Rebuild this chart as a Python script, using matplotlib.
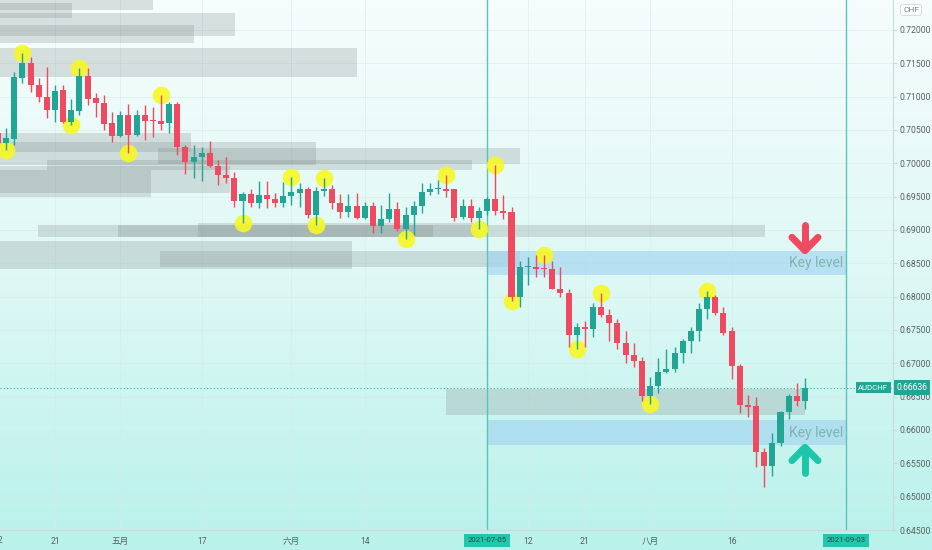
import numpy as np
import pandas as pd
import matplotlib
matplotlib.use('Agg')
import matplotlib.pyplot as plt
from matplotlib.colors import LinearSegmentedColormap

plt.rcParams['font.family'] = ['Roboto', 'Noto Sans CJK SC', 'DejaVu Sans']

# AUDCHF daily bars, 2021-04-12 .. 2021-08-27
dates = pd.bdate_range('2021-04-12', '2021-08-27')
opens = [0.7046, 0.7031, 0.7037, 0.7128, 0.7151, 0.7118, 0.7100, 0.7080, 0.7110, 0.7062,
         0.7079, 0.7131, 0.7098, 0.7091, 0.7061, 0.7041, 0.7073, 0.7043, 0.7073, 0.7065,
         0.7064, 0.7061, 0.7089, 0.7025, 0.7002, 0.7009, 0.7016, 0.6996, 0.6983, 0.6978,
         0.6944, 0.6954, 0.6941, 0.6953, 0.6947, 0.6941, 0.6951, 0.6956, 0.6962, 0.6922,
         0.6959, 0.6962, 0.6941, 0.6927, 0.6936, 0.6918, 0.6936, 0.6906, 0.6916, 0.6932,
         0.6901, 0.6922, 0.6936, 0.6957, 0.6961, 0.6962, 0.6961, 0.6920, 0.6936, 0.6918,
         0.6929, 0.6946, 0.6929, 0.6927, 0.6800, 0.6844, 0.6844, 0.6842, 0.6842, 0.6812,
         0.6806, 0.6742, 0.6754, 0.6752, 0.6784, 0.6773, 0.6761, 0.6731, 0.6712, 0.6704,
         0.6651, 0.6666, 0.6687, 0.6692, 0.6716, 0.6733, 0.6749, 0.6782, 0.6799, 0.6776,
         0.6748, 0.6696, 0.6637, 0.6636, 0.6567, 0.6546, 0.6580, 0.6627, 0.6651, 0.6643]
highs = [0.7053, 0.7053, 0.7137, 0.7166, 0.7160, 0.7128, 0.7145, 0.7118, 0.7118, 0.7097,
         0.7143, 0.7143, 0.7106, 0.7103, 0.7077, 0.7079, 0.7089, 0.7080, 0.7088, 0.7085,
         0.7103, 0.7092, 0.7092, 0.7028, 0.7028, 0.7025, 0.7034, 0.7005, 0.7010, 0.6987,
         0.6957, 0.6962, 0.6974, 0.6974, 0.6956, 0.6972, 0.6980, 0.6971, 0.6965, 0.6965,
         0.6978, 0.6968, 0.6954, 0.6954, 0.6956, 0.6942, 0.6942, 0.6938, 0.6956, 0.6942,
         0.6934, 0.6944, 0.6971, 0.6971, 0.6975, 0.6982, 0.6962, 0.6947, 0.6946, 0.6935,
         0.6949, 0.6998, 0.6953, 0.6935, 0.6853, 0.6860, 0.6863, 0.6862, 0.6853, 0.6844,
         0.6811, 0.6761, 0.6763, 0.6791, 0.6806, 0.6782, 0.6766, 0.6748, 0.6730, 0.6709,
         0.6679, 0.6708, 0.6721, 0.6725, 0.6736, 0.6755, 0.6791, 0.6808, 0.6802, 0.6785,
         0.6754, 0.6699, 0.6652, 0.6649, 0.6573, 0.6595, 0.6628, 0.6654, 0.6670, 0.6678]
lows = [0.7023, 0.7020, 0.7028, 0.7121, 0.7107, 0.7092, 0.7068, 0.7062, 0.7061, 0.7058,
        0.7073, 0.7088, 0.7070, 0.7050, 0.7032, 0.7040, 0.7016, 0.7041, 0.7035, 0.7040,
        0.7050, 0.7046, 0.7013, 0.6984, 0.6978, 0.6974, 0.6995, 0.6968, 0.6971, 0.6935,
        0.6911, 0.6935, 0.6933, 0.6933, 0.6935, 0.6935, 0.6938, 0.6935, 0.6918, 0.6908,
        0.6951, 0.6931, 0.6918, 0.6920, 0.6917, 0.6916, 0.6896, 0.6896, 0.6912, 0.6899,
        0.6886, 0.6893, 0.6926, 0.6953, 0.6954, 0.6950, 0.6914, 0.6916, 0.6912, 0.6901,
        0.6923, 0.6923, 0.6916, 0.6793, 0.6784, 0.6818, 0.6830, 0.6829, 0.6811, 0.6800,
        0.6725, 0.6721, 0.6724, 0.6739, 0.6769, 0.6733, 0.6721, 0.6700, 0.6694, 0.6643,
        0.6639, 0.6655, 0.6685, 0.6687, 0.6700, 0.6715, 0.6733, 0.6766, 0.6772, 0.6743,
        0.6676, 0.6625, 0.6619, 0.6544, 0.6514, 0.6531, 0.6576, 0.6616, 0.6636, 0.6631]
closes = [0.7031, 0.7038, 0.7130, 0.7151, 0.7118, 0.7100, 0.7080, 0.7109, 0.7062, 0.7080,
          0.7131, 0.7097, 0.7091, 0.7059, 0.7041, 0.7073, 0.7043, 0.7073, 0.7064, 0.7064,
          0.7059, 0.7089, 0.7025, 0.7002, 0.7010, 0.7016, 0.6996, 0.6983, 0.6978, 0.6944,
          0.6954, 0.6941, 0.6953, 0.6946, 0.6941, 0.6951, 0.6957, 0.6962, 0.6922, 0.6959,
          0.6962, 0.6941, 0.6927, 0.6936, 0.6918, 0.6936, 0.6906, 0.6916, 0.6932, 0.6901,
          0.6922, 0.6936, 0.6957, 0.6962, 0.6962, 0.6959, 0.6918, 0.6936, 0.6918, 0.6929,
          0.6946, 0.6929, 0.6926, 0.6800, 0.6844, 0.6844, 0.6841, 0.6841, 0.6812, 0.6806,
          0.6742, 0.6754, 0.6752, 0.6784, 0.6773, 0.6761, 0.6731, 0.6712, 0.6703, 0.6651,
          0.6666, 0.6687, 0.6692, 0.6716, 0.6733, 0.6749, 0.6782, 0.6799, 0.6776, 0.6746,
          0.6696, 0.6637, 0.6634, 0.6567, 0.6546, 0.6580, 0.6627, 0.6651, 0.6643, 0.66636]

# swing points marked with yellow circles: (bar, 'H'/'L')
swings = [(1, 'L'), (3, 'H'), (9, 'L'), (10, 'H'), (16, 'L'), (20, 'H'), (30, 'L'),
          (36, 'H'), (39, 'L'), (40, 'H'), (50, 'L'), (55, 'H'), (59, 'L'), (61, 'H'),
          (63, 'L'), (67, 'H'), (71, 'L'), (74, 'H'), (80, 'L'), (87, 'H')]

# gray zones: bar start, bar end, low, high
zone_x0 = [-1, -1, -1, -1, -1, -1, -1, 19.6, 6.0, -1, -1, 4.9, 14.7, 24.5, -1, 19.9, 55.0]
zone_x1 = [19.0, 9.1, 29.1, 24.0, 44.0, 23.7, 39.0, 64.0, 58.2, 18.8, 28.5, 94.1, 53.4, 59.0, 43.4, 64.0, 99.0]
zone_lo = [0.7230, 0.7218, 0.7191, 0.7181, 0.7130, 0.7017, 0.6998, 0.6999, 0.6990, 0.6949,
           0.6956, 0.6890, 0.6889, 0.6890, 0.6841, 0.6844, 0.6622]
zone_hi = [0.7260, 0.7240, 0.7225, 0.7208, 0.7173, 0.7046, 0.7032, 0.7023, 0.7005, 0.6990,
           0.6996, 0.6908, 0.6907, 0.6911, 0.6883, 0.6868, 0.6661]

# blue key levels
key_lo = [0.6832, 0.6577]
key_hi = [0.6869, 0.6615]
key_start = pd.Timestamp('2021-07-05')
key_end = pd.Timestamp('2021-09-03')

last_price = 0.66636
price_ticks = np.arange(0.645, 0.7201, 0.005)
month_ticks = {'2021-04-21': '21', '2021-05-03': '五月', '2021-05-17': '17',
               '2021-06-01': '六月', '2021-06-14': '14', '2021-07-12': '12',
               '2021-07-21': '21', '2021-08-02': '八月', '2021-08-16': '16'}

up_col = '#22a595'
dn_col = '#ef4a5f'

all_days = pd.bdate_range('2021-04-12', '2021-09-30')
def bar_of(d):
    return int(all_days.get_loc(pd.Timestamp(d)))

fig = plt.figure(figsize=(9.32, 5.5), dpi=100)

# gradient background
bg = fig.add_axes([0, 0, 1, 1])
bg.set_zorder(0)
grad = np.linspace(0, 1, 256).reshape(-1, 1)
cmap = LinearSegmentedColormap.from_list('bg', ['#f6fdfc', '#def8f5', '#b9f1eb'])
bg.imshow(grad, aspect='auto', cmap=cmap, extent=[0, 1, 0, 1], origin='upper')
bg.axis('off')

ax = fig.add_axes([0, 20 / 550, 893 / 932, 530 / 550])
ax.set_zorder(1)
ax.set_facecolor('none')

xs = np.arange(len(dates))
o = np.array(opens); h = np.array(highs); l = np.array(lows); c = np.array(closes)
cols = np.where(c >= o, up_col, dn_col)

# grid
for p in price_ticks:
    ax.axhline(p, color='#d6ebe8', lw=0.5, alpha=0.8, zorder=0.5)
for d in month_ticks:
    ax.axvline(bar_of(d), color='#d6ebe8', lw=0.5, alpha=0.8, zorder=0.5)

# zones
for x0, x1, lo, hi in zip(zone_x0, zone_x1, zone_lo, zone_hi):
    ax.fill_between([x0, x1], lo, hi, color='#7f8a8a', alpha=0.25, lw=0, zorder=1)
for lo, hi in zip(key_lo, key_hi):
    ax.fill_between([bar_of(key_start), bar_of(key_end)], lo, hi, color='#9dd2f0',
                    alpha=0.6, lw=0, zorder=1)

# vertical markers
for d in [key_start, key_end]:
    ax.axvline(bar_of(d), color='#5cc4b6', lw=1.0, zorder=1.5)

# swing circles
sx = [s[0] for s in swings]
sy = [h[s[0]] if s[1] == 'H' else l[s[0]] for s in swings]
ax.scatter(sx, sy, s=160, color='#f7f724', alpha=0.9, lw=0, zorder=2)

# candles
ax.vlines(xs, l, h, colors=cols, lw=1.0, zorder=3)
body_lo = np.minimum(o, c)
body_h = np.maximum(np.abs(c - o), 0.00015)
ax.bar(xs, body_h, bottom=body_lo, width=0.74, color=cols, lw=0, zorder=4)

# last price line
ax.axhline(last_price, color='#3fb3a5', lw=0.8, ls=(0, (1, 2)), zorder=2)

# key level labels and arrows
for lo, hi in zip(key_lo, key_hi):
    ax.text(bar_of(key_end) - 0.3, (lo + hi) / 2, 'Key level', ha='right',
            va='center', fontsize=10, color='#7db6ae', zorder=5)
ax.plot([99, 99], [0.6907, 0.6871], color=dn_col, lw=5, solid_capstyle='round', zorder=5)
ax.plot([97.4, 99, 100.6], [0.6889, 0.6869, 0.6889], color=dn_col, lw=5,
        solid_capstyle='round', solid_joinstyle='round', zorder=5)
ax.plot([99, 99], [0.6572, 0.6536], color='#1cc6a8', lw=5, solid_capstyle='round', zorder=5)
ax.plot([97.4, 99, 100.6], [0.6554, 0.6574, 0.6554], color='#1cc6a8', lw=5,
        solid_capstyle='round', solid_joinstyle='round', zorder=5)

ax.set_xlim(0.25, 109.8)
ax.set_ylim(0.64515, 0.72449)

# axes styling
for s in ['top', 'left']:
    ax.spines[s].set_visible(False)
ax.spines['right'].set_color('#c9dcda')
ax.spines['bottom'].set_color('#c9dcda')
ax.yaxis.tick_right()
ax.set_yticks(price_ticks)
ax.set_yticklabels(['%.5f' % p for p in price_ticks])
ax.tick_params(axis='y', length=3, color='#c9dcda', labelsize=6.2, labelcolor='#5a6060', pad=2)
ax.set_xticks([bar_of(d) for d in month_ticks])
ax.set_xticklabels(list(month_ticks.values()))
ax.tick_params(axis='x', length=0, labelsize=6.2, labelcolor='#5a6060', pad=5)
# first label, cut by the left edge
ax.text(0, -0.019, '12', transform=ax.get_xaxis_transform(), ha='center', va='center',
        fontsize=6.2, color='#5a6060', clip_on=False)

# date labels on time axis
for d in [key_start, key_end]:
    ax.text(bar_of(d), -0.019, d.strftime('%Y-%m-%d'), transform=ax.get_xaxis_transform(),
            ha='center', va='center', fontsize=5.6, color='#1d4d47', clip_on=False,
            bbox=dict(boxstyle='square,pad=0.45', fc='#24c4ad', ec='none'), zorder=6)

# price labels
ax.text(0.978, last_price, 'AUDCHF', transform=ax.get_yaxis_transform(), ha='center',
        va='center', fontsize=5.6, color='white', zorder=6,
        bbox=dict(boxstyle='square,pad=0.3', fc=up_col, ec='none'))
ax.text(1.004, last_price, '%.5f' % last_price, transform=ax.get_yaxis_transform(),
        ha='left', va='center', fontsize=6.2, color='white', clip_on=False, zorder=6,
        bbox=dict(boxstyle='square,pad=0.3', fc=up_col, ec='none'))
fig.text(911 / 932, 1 - 10 / 550, 'CHF', ha='center', va='center', fontsize=6,
         color='#777c7c', bbox=dict(boxstyle='round,pad=0.3', fc='white', ec='#d0d8d8', lw=0.6))

fig.savefig('out.png', dpi=100)
